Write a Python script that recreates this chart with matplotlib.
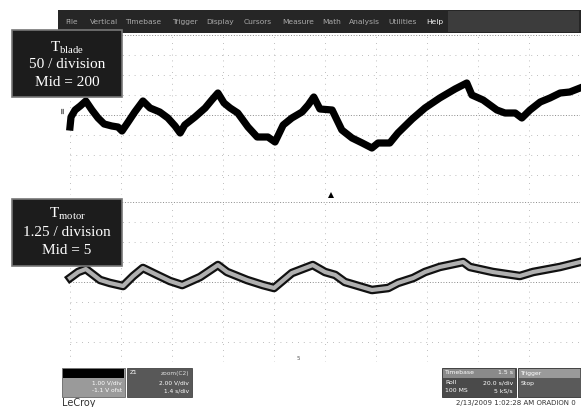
import matplotlib
matplotlib.use("Agg")
import matplotlib.pyplot as plt
from matplotlib.patches import Rectangle, Polygon

# ---------------- data ----------------
blade_t = [0.00, 0.02, 0.10, 0.20, 0.31, 0.43, 0.55, 0.67, 0.82, 0.94, 1.02, 1.14, 1.27, 1.43,
           1.57, 1.76, 1.92, 2.06, 2.16, 2.25, 2.45, 2.65, 2.78, 2.90, 3.02, 3.14, 3.29, 3.49,
           3.67, 3.88, 4.02, 4.18, 4.35, 4.55, 4.67, 4.78, 4.90, 5.14, 5.33, 5.53, 5.73, 5.92,
           6.04, 6.27, 6.43, 6.71, 6.96, 7.25, 7.55, 7.78, 7.88, 8.10, 8.37, 8.53, 8.73, 8.86,
           9.02, 9.22, 9.41, 9.61, 9.80, 10.00]
blade_v = [170, 195, 212.5, 222.5, 235, 212.5, 192.5, 177.5, 172.5, 170, 160, 182.5, 207.5, 235,
           217.5, 207.5, 192.5, 172.5, 155, 175, 195, 217.5, 237.5, 255, 230, 217.5, 205, 170,
           145, 145, 132.5, 175, 192.5, 207.5, 225, 245, 215, 212.5, 162.5, 142.5, 130, 117.5,
           130, 130, 155, 190, 217.5, 242.5, 265, 280, 250, 237.5, 212.5, 205, 205, 192.5,
           212.5, 232.5, 242.5, 255, 257.5, 267.5]

motor_t = [0.00, 0.16, 0.31, 0.59, 0.78, 1.04, 1.24, 1.43, 1.71, 1.96, 2.20, 2.55, 2.90, 3.08,
           3.47, 3.78, 4.00, 4.35, 4.76, 5.00, 5.20, 5.39, 5.92, 6.24, 6.43, 6.73, 6.96, 7.25,
           7.71, 7.84, 8.29, 8.82, 9.08, 9.61, 10.00]
motor_v = [5.25, 5.625, 5.81, 5.125, 4.94, 4.75, 5.375, 5.875, 5.44, 5.06, 4.81, 5.31, 6.06, 5.625,
           5.125, 4.81, 4.625, 5.56, 6.06, 5.625, 5.44, 5.0, 4.5, 4.625, 4.94, 5.25, 5.625, 5.94,
           6.25, 5.94, 5.625, 5.375, 5.625, 5.94, 6.25]

blade_mid, blade_div = 200, 50
motor_mid, motor_div = 5, 1.25
n_xdiv, n_ydiv = 10, 8

menu_items = ["File", "Vertical", "Timebase", "Trigger", "Display", "Cursors",
              "Measure", "Math", "Analysis", "Utilities", "Help"]
menu_x = [65, 90, 125, 172, 206, 244, 282, 322, 349, 388, 426]

blade_label = [r"$\mathregular{T_{blade}}$", "50 / division", "Mid = 200"]
motor_label = [r"$\mathregular{T_{motor}}$", "1.25 / division", "Mid = 5"]

# ---------------- figure ----------------
W, H = 581, 407
fig = plt.figure(figsize=(W / 100, H / 100), dpi=100)
fig.patch.set_facecolor("white")


def px_axes(x0, y0, x1, y1, **kw):
    return fig.add_axes([x0 / W, 1 - y1 / H, (x1 - x0) / W, (y1 - y0) / H], **kw)


def grid_panel(ax, mid, div):
    ax.set_xlim(0, n_xdiv)
    ax.set_ylim(mid - div * n_ydiv / 2, mid + div * n_ydiv / 2)
    ax.set_axis_off()
    sparse = dict(color="#a8a8a8", lw=0.6, ls=(0, (1, 6)))
    dense = dict(color="#8a8a8a", lw=0.7, ls=(0, (1, 1.8)))
    for i in range(0, n_xdiv + 1):
        ax.axvline(i, **sparse)
    for j in range(1, n_ydiv):
        yv = mid - div * n_ydiv / 2 + j * div
        ax.axhline(yv, **(dense if j == n_ydiv // 2 else sparse))
    ax.axhline(mid - div * n_ydiv / 2, **dense)
    ax.axhline(mid + div * n_ydiv / 2, **dense)


ax1 = px_axes(70, 35, 580, 195)
grid_panel(ax1, blade_mid, blade_div)
ax1.plot(blade_t, blade_v, color="black", lw=5.2, solid_joinstyle="round", clip_on=False)

ax2 = px_axes(70, 202, 580, 362)
grid_panel(ax2, motor_mid, motor_div)
ax2.plot(motor_t, motor_v, color="#111111", lw=6.2, solid_joinstyle="round", clip_on=False)
ax2.plot(motor_t, motor_v, color="#b0b0b0", lw=3.0, solid_joinstyle="round", clip_on=False)

# ---------------- decorations ----------------
deco = fig.add_axes([0, 0, 1, 1], zorder=10)
deco.set_xlim(0, W)
deco.set_ylim(H, 0)
deco.set_axis_off()

# menu bar
deco.add_patch(Rectangle((58, 10), W - 58, 23, facecolor="#262626", edgecolor="none"))
deco.add_patch(Rectangle((448, 11), W - 450, 21, facecolor="#3c3c3c", edgecolor="none"))
for lab, xm in zip(menu_items, menu_x):
    deco.text(xm, 22, lab, fontsize=5.4, color="#f2f2f2" if lab == "Help" else "#a8a8a8",
              va="center", ha="left", family="DejaVu Sans")

# label boxes
serif = ["Liberation Serif", "DejaVu Serif"]
for (y0, y1), lines, ys in [((30, 97), blade_label, (48, 65, 83)),
                            ((199, 266), motor_label, (214, 232, 250))]:
    deco.add_patch(Rectangle((12, y0), 110, y1 - y0, facecolor="#1c1c1c",
                             edgecolor="#777777", lw=1.2))
    for txt, yy in zip(lines, ys):
        deco.text(67, yy, txt, fontsize=11, color="white", ha="center", va="center",
                  family=serif)

# channel marker & trigger marker
deco.text(63, 111, "≡", fontsize=6, color="#444444", ha="center", va="center", rotation=90)
deco.add_patch(Polygon([[328, 198], [334, 198], [331, 192]], closed=True, facecolor="black"))
deco.text(298, 358, "5", fontsize=4, color="#555555", ha="center", va="center")

# bottom status boxes
deco.add_patch(Rectangle((62, 368), 63, 29, facecolor="#9a9a9a", edgecolor="#666666", lw=0.6))
deco.add_patch(Rectangle((63, 369), 61, 9, facecolor="black", edgecolor="none"))
deco.text(122, 383, "1.00 V/div", fontsize=4.2, color="white", ha="right", va="center")
deco.text(122, 391, "-1.1 V ofst", fontsize=4.2, color="white", ha="right", va="center")

deco.add_patch(Rectangle((127, 368), 65, 29, facecolor="#585858", edgecolor="#444444", lw=0.6))
deco.text(130, 373, "Z1", fontsize=4.2, color="white", ha="left", va="center")
deco.text(189, 373, "zoom(C2)", fontsize=4.2, color="#dddddd", ha="right", va="center")
deco.text(189, 383, "2.00 V/div", fontsize=4.2, color="white", ha="right", va="center")
deco.text(189, 391, "1.4 s/div", fontsize=4.2, color="white", ha="right", va="center")

deco.add_patch(Rectangle((442, 368), 74, 29, facecolor="#4a4a4a", edgecolor="#333333", lw=0.6))
deco.add_patch(Rectangle((443, 369), 72, 9, facecolor="#8a8a8a", edgecolor="none"))
deco.text(445, 373, "Timebase", fontsize=4.4, color="white", ha="left", va="center")
deco.text(513, 373, "1.5 s", fontsize=4.4, color="white", ha="right", va="center")
deco.text(445, 383, "Roll", fontsize=4.4, color="white", ha="left", va="center")
deco.text(513, 383, "20.0 s/div", fontsize=4.4, color="white", ha="right", va="center")
deco.text(445, 391, "100 MS", fontsize=4.4, color="white", ha="left", va="center")
deco.text(513, 391, "5 kS/s", fontsize=4.4, color="white", ha="right", va="center")

deco.add_patch(Rectangle((518, 368), 63, 29, facecolor="#5a5a5a", edgecolor="#333333", lw=0.6))
deco.add_patch(Rectangle((519, 369), 61, 9, facecolor="#9a9a9a", edgecolor="none"))
deco.text(521, 373, "Trigger", fontsize=4.4, color="white", ha="left", va="center")
deco.text(521, 383, "Stop", fontsize=4.4, color="white", ha="left", va="center")

deco.text(62, 403, "LeCroy", fontsize=7, color="#333333", ha="left", va="center")
deco.text(576, 403, "2/13/2009 1:02:28 AM ORADION 0", fontsize=5, color="#333333",
          ha="right", va="center")

fig.savefig("out.png", dpi=100, facecolor="white")
